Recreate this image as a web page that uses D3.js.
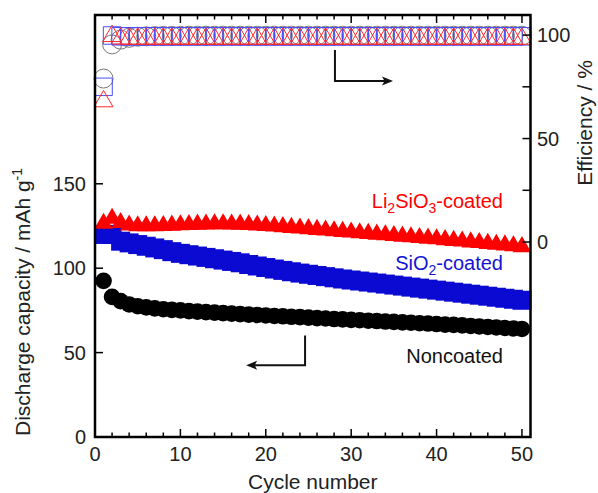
<!DOCTYPE html>
<html>
<head>
<meta charset="utf-8">
<script src="https://cdn.jsdelivr.net/npm/d3@7"></script>
<style>
  body { margin: 0; background: #fff; }
  svg text { font-family: "Liberation Sans", Arial, sans-serif; }
</style>
</head>
<body>
<div id="chart"></div>
<script>
// cycle numbers 1..50
var cycles = d3.range(1, 51)

// discharge capacity / mAh g-1
var noncoatedCap = [92.5, 83, 80.5, 78.5, 77.5, 76.8, 76.2, 75.7, 75.3, 75.0,
  74.6, 74.3, 74.0, 73.7, 73.4, 73.1, 72.8, 72.5, 72.3, 72.0,
  71.7, 71.5, 71.2, 71.0, 70.7, 70.4, 70.2, 69.9, 69.7, 69.4,
  69.2, 68.9, 68.7, 68.4, 68.2, 67.9, 67.7, 67.4, 67.2, 66.9,
  66.6, 66.4, 66.1, 65.8, 65.5, 65.2, 64.9, 64.6, 64.3, 64.0]
var sio2Cap = [120, 120, 116, 115, 114, 113, 112, 111, 109.8, 108.8,
  108, 107.2, 106.4, 105.6, 104.8, 104, 103.2, 102.2, 101.3, 100.4,
  99.5, 98.7, 97.9, 97.1, 96.4, 95.7, 95, 94.3, 93.6, 93,
  92.4, 91.8, 91.2, 90.6, 90, 89.4, 88.8, 88.2, 87.6, 87,
  86.4, 85.8, 85.2, 84.6, 84, 83.4, 82.8, 82.2, 81.6, 81]
var li2sio3Cap = [126.5, 129.5, 127, 125.5, 125, 125, 125, 125.2, 125.4, 125.6,
  125.8, 126, 126.1, 126.2, 126.2, 126.1, 126, 125.8, 125.5, 125.2,
  124.9, 124.5, 124.1, 123.7, 123.3, 122.9, 122.5, 122.1, 121.7, 121.3,
  120.9, 120.5, 120.1, 119.7, 119.3, 118.9, 118.5, 118.1, 117.7, 117.3,
  116.8, 116.4, 116, 115.5, 115.1, 114.6, 114.1, 113.7, 113.2, 112.7]

// coulombic efficiency / %
var noncoatedEff = [79, 95.5, 97.8, 98.7, 99.2, 99.4, 99.5, 99.6, 99.6, 99.6,
  99.7, 99.7, 99.7, 99.7, 99.7, 99.7, 99.7, 99.7, 99.7, 99.7,
  99.7, 99.7, 99.7, 99.7, 99.7, 99.7, 99.7, 99.7, 99.7, 99.7,
  99.7, 99.7, 99.7, 99.7, 99.7, 99.7, 99.7, 99.7, 99.7, 99.7,
  99.7, 99.7, 99.7, 99.7, 99.7, 99.7, 99.7, 99.7, 99.7, 99.7]
var sio2Eff = [75, 99.8, 99.4, 99.4, 99.4, 99.4, 99.4, 99.4, 99.4, 99.4,
  99.4, 99.4, 99.4, 99.4, 99.4, 99.4, 99.4, 99.4, 99.4, 99.4,
  99.4, 99.4, 99.4, 99.4, 99.4, 99.4, 99.4, 99.4, 99.4, 99.4,
  99.4, 99.4, 99.4, 99.4, 99.4, 99.4, 99.4, 99.4, 99.4, 99.4,
  99.4, 99.4, 99.4, 99.4, 99.4, 99.4, 99.4, 99.4, 99.4, 99.4]
var li2sio3Eff = [68, 99.5, 98.3, 98.2, 98.2, 98.2, 98.2, 98.2, 98.2, 98.2,
  98.2, 98.2, 98.2, 98.2, 98.2, 98.2, 98.2, 98.2, 98.2, 98.2,
  98.2, 98.2, 98.2, 98.2, 98.2, 98.2, 98.2, 98.2, 98.2, 98.2,
  98.2, 98.2, 98.2, 98.2, 98.2, 98.2, 98.2, 98.2, 98.2, 98.2,
  98.2, 98.2, 98.2, 98.2, 98.2, 98.2, 98.2, 98.2, 98.2, 98.2]

// tick values
var xTicks = [0, 10, 20, 30, 40, 50]
var capTicks = [0, 50, 100, 150]
var effTicks = [0, 50, 100]

var width = 598
var height = 493

var svg = d3.select("#chart")
  .append("svg")
  .attr("width", width)
  .attr("height", height)

// scales (pixel ranges)
var x = d3.scaleLinear().domain([0, 51]).range([95, 530.5])
var yCap = d3.scaleLinear().domain([0, 250]).range([437, 15])
var yEff = d3.scaleLinear().domain([-94.2, 109.7]).range([437, 15])

var plot = svg.append("g")

// filled markers: capacity
function drawFilled(values, type, size, color) {
  plot.append("g").selectAll("path")
    .data(values)
    .enter()
    .append("path")
    .attr("d", d3.symbol().type(type).size(size))
    .attr("transform", function (d, i) { return "translate(" + x(cycles[i]) + "," + yCap(d) + ")" })
    .attr("fill", color)
}
drawFilled(noncoatedCap, d3.symbolCircle, Math.PI * 8.3 * 8.3, "#000")
drawFilled(sio2Cap, d3.symbolSquare, 19 * 19, "#0a0ad2")
drawFilled(li2sio3Cap, d3.symbolTriangle, 150, "#ff0000")

// open markers: efficiency
function drawOpen(values, type, size, color) {
  plot.append("g").selectAll("path")
    .data(values)
    .enter()
    .append("path")
    .attr("d", d3.symbol().type(type).size(size))
    .attr("transform", function (d, i) { return "translate(" + x(cycles[i]) + "," + yEff(d) + ")" })
    .attr("fill", "none")
    .attr("stroke", color)
    .attr("stroke-width", 1)
}
drawOpen(noncoatedEff, d3.symbolCircle, Math.PI * 9.5 * 9.5, "#7a7a7a")
drawOpen(sio2Eff, d3.symbolSquare, 17.5 * 17.5, "#4b4bff")
drawOpen(li2sio3Eff, d3.symbolTriangle, 155, "#ff2a2a")

var axes = svg.append("g")

// top and bottom ticks, inward, minor every 2
function xTickLines(y0, dir) {
  axes.append("g").selectAll("line")
    .data(d3.range(0, 51, 2))
    .enter()
    .append("line")
    .attr("x1", function (d) { return x(d) })
    .attr("x2", function (d) { return x(d) })
    .attr("y1", y0)
    .attr("y2", function (d) { return y0 + dir * (d % 10 === 0 ? 8 : 4.5) })
    .attr("stroke", "#000")
    .attr("stroke-width", 1.5)
}
xTickLines(437, -1)
xTickLines(15, 1)

// left axis ticks
axes.append("g").selectAll("line")
  .data(capTicks)
  .enter()
  .append("line")
  .attr("x1", x(0)).attr("x2", x(0) + 8)
  .attr("y1", function (d) { return yCap(d) })
  .attr("y2", function (d) { return yCap(d) })
  .attr("stroke", "#000").attr("stroke-width", 1.5)

// right axis ticks (major + minor)
axes.append("g").selectAll("line")
  .data([0, 25, 50, 75, 100])
  .enter()
  .append("line")
  .attr("x1", x(51)).attr("x2", x(51) - 8)
  .attr("y1", function (d) { return yEff(d) })
  .attr("y2", function (d) { return yEff(d) })
  .attr("stroke", "#000").attr("stroke-width", 1.5)

// frame
axes.append("rect")
  .attr("x", x(0))
  .attr("y", 15)
  .attr("width", x(51) - x(0))
  .attr("height", 437 - 15)
  .attr("fill", "none")
  .attr("stroke", "#000")
  .attr("stroke-width", 2.5)

// tick labels
var fs = 20
axes.append("g").selectAll("text")
  .data(xTicks)
  .enter()
  .append("text")
  .attr("x", function (d) { return x(d) })
  .attr("y", 461)
  .attr("text-anchor", "middle")
  .attr("font-size", fs)
  .attr("fill", "#222")
  .text(function (d) { return d })

axes.append("g").selectAll("text")
  .data(capTicks)
  .enter()
  .append("text")
  .attr("x", 86)
  .attr("y", function (d) { return yCap(d) + 7 })
  .attr("text-anchor", "end")
  .attr("font-size", fs)
  .attr("fill", "#222")
  .text(function (d) { return d })

axes.append("g").selectAll("text")
  .data(effTicks)
  .enter()
  .append("text")
  .attr("x", 537)
  .attr("y", function (d) { return yEff(d) + 7 })
  .attr("text-anchor", "start")
  .attr("font-size", fs)
  .attr("fill", "#222")
  .text(function (d) { return d })

// axis titles
svg.append("text")
  .attr("x", x(25.5))
  .attr("y", 489)
  .attr("text-anchor", "middle")
  .attr("font-size", 21)
  .attr("fill", "#222")
  .text("Cycle number")

var yTitle = svg.append("text")
  .attr("transform", "translate(30,302) rotate(-90)")
  .attr("text-anchor", "middle")
  .attr("font-size", 21)
  .attr("fill", "#222")
yTitle.append("tspan").text("Discharge capacity / mAh g")
yTitle.append("tspan").attr("font-size", 14).attr("dy", -8).text("-1")

svg.append("text")
  .attr("transform", "translate(592,123) rotate(-90)")
  .attr("text-anchor", "middle")
  .attr("font-size", 21)
  .attr("fill", "#222")
  .text("Efficiency / %")

// series labels, subscripts shifted down
function label(parts, y, color) {
  var t = svg.append("text")
    .attr("x", 503)
    .attr("y", y)
    .attr("text-anchor", "end")
    .attr("font-size", fs)
    .attr("fill", color)
  var shifted = false
  parts.forEach(function (p) {
    var s = t.append("tspan")
    if (p.sub) {
      s.attr("font-size", 14).attr("dy", 5).text(p.sub)
      shifted = true
    } else {
      if (shifted) s.attr("dy", -5)
      s.text(p.t)
      shifted = false
    }
  })
}
label([{ t: "Li" }, { sub: "2" }, { t: "SiO" }, { sub: "3" }, { t: "-coated" }], 208, "#ff0000")
label([{ t: "SiO" }, { sub: "2" }, { t: "-coated" }], 270, "#1414d2")
label([{ t: "Noncoated" }], 363, "#111")

// arrows (positions in data coordinates)
var effArrow = { cx: 28.1, top: 92.8, bottom: 77.8, tip: 34.9 }
var capArrow = { cx: 24.6, top: 60.2, bottom: 42.5, tip: 17.7 }

svg.append("path")
  .attr("d", "M" + x(effArrow.cx) + "," + yEff(effArrow.top) +
    "V" + yEff(effArrow.bottom) + "H" + (x(effArrow.tip) - 8))
  .attr("fill", "none").attr("stroke", "#111").attr("stroke-width", 2)
svg.append("path")
  .attr("d", "M" + x(effArrow.tip) + "," + yEff(effArrow.bottom) +
    "l-11,-4.5l2.5,4.5l-2.5,4.5z")
  .attr("fill", "#111")

svg.append("path")
  .attr("d", "M" + x(capArrow.cx) + "," + yCap(capArrow.top) +
    "V" + yCap(capArrow.bottom) + "H" + (x(capArrow.tip) + 8))
  .attr("fill", "none").attr("stroke", "#111").attr("stroke-width", 2)
svg.append("path")
  .attr("d", "M" + x(capArrow.tip) + "," + yCap(capArrow.bottom) +
    "l11,-4.5l-2.5,4.5l2.5,4.5z")
  .attr("fill", "#111")
</script>
</body>
</html>
